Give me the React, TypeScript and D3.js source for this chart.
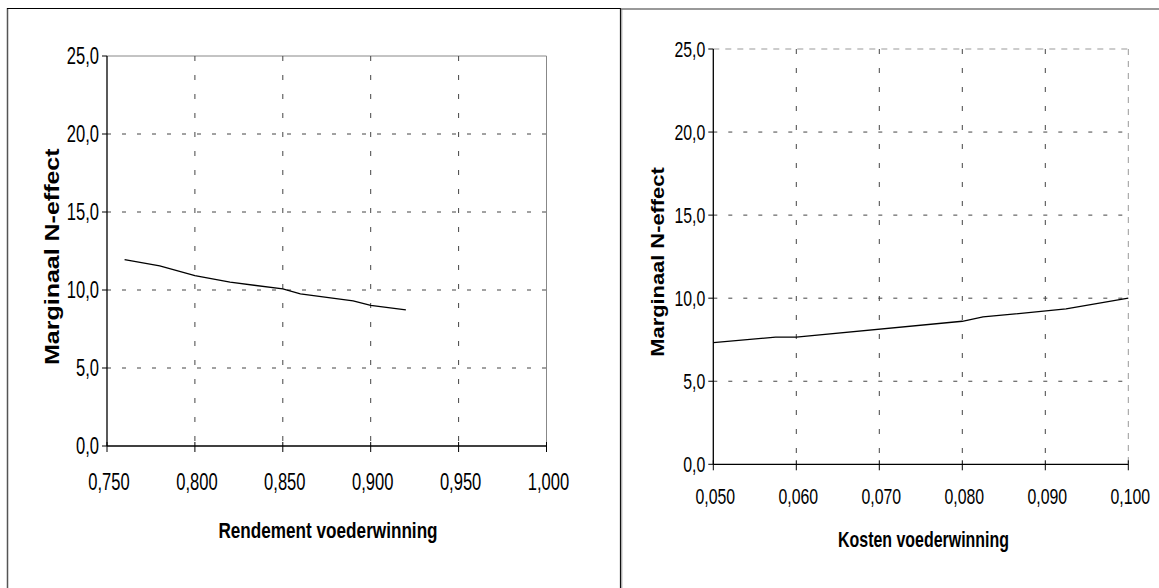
import React from "react";
import * as d3 from "d3";

// ---------- data ----------
const rendementX = [0.76, 0.78, 0.8, 0.82, 0.85, 0.86, 0.89, 0.9, 0.92];
const rendementY = [11.95, 11.55, 10.92, 10.5, 10.07, 9.75, 9.3, 9.02, 8.72];

const kostenX = [0.05, 0.0575, 0.06, 0.08, 0.0825, 0.0925, 0.1];
const kostenY = [7.33, 7.65, 7.66, 8.61, 8.87, 9.35, 10.0];

const rendementTicks = [0.75, 0.8, 0.85, 0.9, 0.95, 1.0];
const kostenTicks = [0.05, 0.06, 0.07, 0.08, 0.09, 0.1];
const yTicks = [0, 5, 10, 15, 20, 25];

const yTitle = "Marginaal N-effect";
const leftXTitle = "Rendement voederwinning";
const rightXTitle = "Kosten voederwinning";

const FONT = "'Liberation Sans', Arial, Helvetica, sans-serif";

const fmtX = (v: number) => d3.format(".3f")(v).replace(".", ",");
const fmtY = (v: number) => d3.format(".1f")(v).replace(".", ",");

type PanelProps = {
  xs: number[];
  ys: number[];
  xTicks: number[];
  xDomain: [number, number];
  xRange: [number, number];
  yRange: [number, number];
  xTitle: string;
  xTitlePos: [number, number];
  xTitleSize: number;
  xTitleScale: number;
  yTitlePos: [number, number];
  yTitleSize: number;
  yTitleScale: number;
  tickSize: number;
  xLabelBaseline: number;
  frameColor: string;
  frameDash?: string;
};

function Panel(p: PanelProps) {
  const x = d3.scaleLinear().domain(p.xDomain).range(p.xRange);
  const y = d3.scaleLinear().domain([0, 25]).range(p.yRange);
  const line = d3
    .line<number>()
    .x((_, i) => x(p.xs[i]))
    .y((d) => y(d));
  const [x0, x1] = p.xRange;
  const [yb, yt] = p.yRange;
  const ts = 0.72;
  return (
    <g>
      {/* plot frame (top/right) */}
      <line x1={x0} x2={x1} y1={yt} y2={yt} stroke={p.frameColor} strokeWidth={1} strokeDasharray={p.frameDash} />
      <line x1={x1} x2={x1} y1={yt} y2={yb} stroke={p.frameColor} strokeWidth={1} strokeDasharray={p.frameDash} />
      {/* horizontal grid */}
      {yTicks
        .filter((t) => t > 0 && t < 25)
        .map((t) => (
          <line key={"hg" + t} x1={x0} x2={x1} y1={y(t)} y2={y(t)} stroke="#444" strokeWidth={1} strokeDasharray="4 11" />
        ))}
      {/* vertical grid */}
      {p.xTicks.slice(1, -1).map((t) => (
        <line key={"vg" + t} x1={x(t)} x2={x(t)} y1={yt} y2={yb} stroke="#444" strokeWidth={1} strokeDasharray="5 14" />
      ))}
      {/* axes */}
      <line x1={x0} x2={x0} y1={yt} y2={yb} stroke="#000" strokeWidth={1.3} />
      <line x1={x0} x2={x1} y1={yb} y2={yb} stroke="#000" strokeWidth={1.3} />
      {/* y ticks & labels */}
      {yTicks.map((t) => (
        <g key={"yt" + t}>
          <line x1={x0 - 5} x2={x0} y1={y(t)} y2={y(t)} stroke="#000" strokeWidth={1} />
          <text
            transform={`translate(${x0 - 8},${y(t) + p.tickSize * 0.36}) scale(${ts},1)`}
            textAnchor="end"
            fontFamily={FONT}
            fontSize={p.tickSize}
            fill="#000"
          >
            {fmtY(t)}
          </text>
        </g>
      ))}
      {/* x ticks & labels */}
      {p.xTicks.map((t) => (
        <g key={"xt" + t}>
          <line x1={x(t)} x2={x(t)} y1={yb - 4} y2={yb + 6} stroke="#000" strokeWidth={1} />
          <text
            transform={`translate(${x(t) + 2},${p.xLabelBaseline}) scale(${ts},1)`}
            textAnchor="middle"
            fontFamily={FONT}
            fontSize={p.tickSize}
            fill="#000"
          >
            {fmtX(t)}
          </text>
        </g>
      ))}
      {/* data line */}
      <path d={line(p.ys) || ""} fill="none" stroke="#000" strokeWidth={1.3} />
      {/* titles */}
      <text
        transform={`translate(${p.xTitlePos[0]},${p.xTitlePos[1]}) scale(${p.xTitleScale},1)`}
        textAnchor="middle"
        fontFamily={FONT}
        fontWeight="bold"
        fontSize={p.xTitleSize}
        fill="#000"
      >
        {p.xTitle}
      </text>
      <text
        transform={`translate(${p.yTitlePos[0]},${p.yTitlePos[1]}) rotate(-90) scale(${p.yTitleScale},1)`}
        textAnchor="middle"
        fontFamily={FONT}
        fontWeight="bold"
        fontSize={p.yTitleSize}
        fill="#000"
      >
        {yTitle}
      </text>
    </g>
  );
}

export default function App() {
  return (
    <svg
      width={1159}
      height={588}
      style={{ position: "absolute", left: 0, top: 0, background: "#fff" }}
    >
      <rect x={0} y={0} width={1159} height={588} fill="#fff" />
      {/* panel borders */}
      <line x1={7.5} x2={7.5} y1={8} y2={600} stroke="#555" strokeWidth={1.5} />
      <line x1={7} x2={621} y1={8.5} y2={8.5} stroke="#000" strokeWidth={1.2} />
      <line x1={620.5} x2={620.5} y1={8} y2={600} stroke="#111" strokeWidth={1.2} />
      <line x1={621.8} x2={621.8} y1={9} y2={600} stroke="#999" strokeWidth={1} />
      <line x1={621} x2={1170} y1={9} y2={9} stroke="#777" strokeWidth={1.5} />

      <Panel
        xs={rendementX}
        ys={rendementY}
        xTicks={rendementTicks}
        xDomain={[0.75, 1.0]}
        xRange={[107, 546.5]}
        yRange={[446, 56]}
        xTitle={leftXTitle}
        xTitlePos={[328, 538]}
        xTitleSize={22}
        xTitleScale={0.78}
        yTitlePos={[59, 256.7]}
        yTitleSize={20}
        yTitleScale={1.25}
        tickSize={23}
        xLabelBaseline={490}
        frameColor="#888"
      />
      <Panel
        xs={kostenX}
        ys={kostenY}
        xTicks={kostenTicks}
        xDomain={[0.05, 0.1]}
        xRange={[713.3, 1128.3]}
        yRange={[464.3, 49]}
        xTitle={rightXTitle}
        xTitlePos={[923.5, 546.7]}
        xTitleSize={22}
        xTitleScale={0.725}
        yTitlePos={[664, 262]}
        yTitleSize={19}
        yTitleScale={1.15}
        tickSize={22}
        xLabelBaseline={504}
        frameColor="#999"
        frameDash="6 6"
      />
    </svg>
  );
}
